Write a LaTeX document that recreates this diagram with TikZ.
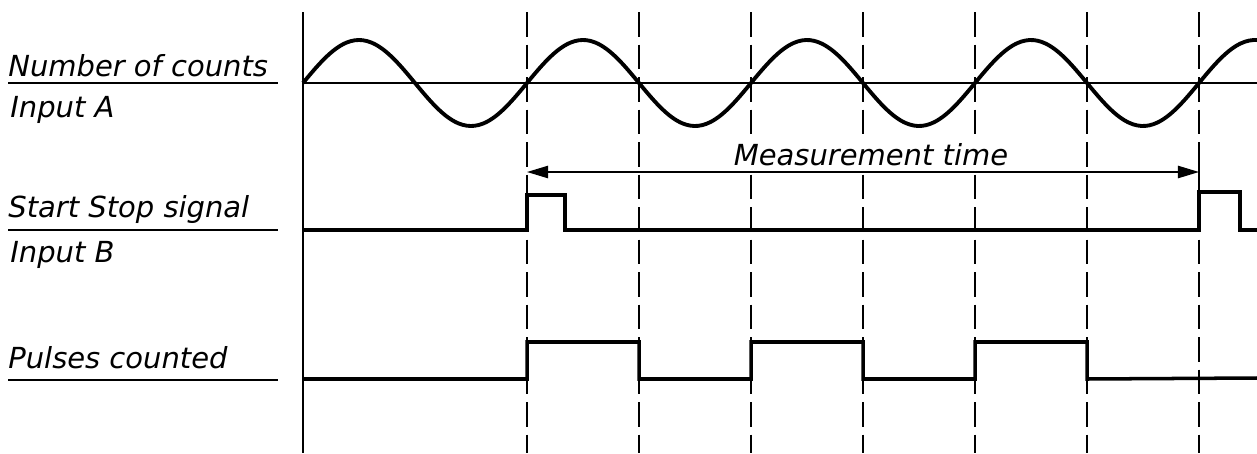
\documentclass[tikz,border=0pt]{standalone}
\usepackage{fontspec}
\newfontfamily\lab{DejaVu Sans}
\usetikzlibrary{arrows.meta}
\tikzset{
  lblfont/.style={font=\lab\itshape\fontsize{16.5}{18}\selectfont},
  lbl/.style={lblfont, inner sep=0pt, anchor=base west},
  uline/.style={line width=1.5pt},
  sig/.style={line width=2pt, line join=miter},
  axisline/.style={line width=1pt},
  grid/.style={line width=1.1pt, dash pattern=on 14pt off 4.5pt},
  meas/.style={line width=0.9pt, {Triangle[length=12pt,width=7pt]}-{Triangle[length=12pt,width=7pt]}},
}
\begin{document}
\begin{tikzpicture}[x=0.02cm, y=-0.02cm]
\useasboundingbox (0,0) rectangle (1257,453);
% labels
\node[lbl] (nc) at (8,76) {Number of counts};
\node[lbl] (ia) at (10,117) {Input A};
\node[lbl] (ss) at (8,217) {Start Stop signal};
\node[lbl] (ib) at (10,262) {Input B};
\node[lbl] (pc) at (8,368) {Pulses counted};
\coordinate (u1a) at (8,83); \coordinate (u1b) at (278,83);
\coordinate (u2a) at (8,230); \coordinate (u2b) at (278,230);
\coordinate (u3a) at (8,380); \coordinate (u3b) at (278,380);
\draw[uline] (u1a) -- (u1b);
\draw[uline] (u2a) -- (u2b);
\draw[uline] (u3a) -- (u3b);
% time axis
\coordinate (t0) at (303,12); \coordinate (t0b) at (303,453);
\draw[line width=1.2pt] (t0) -- (t0b);
% dashed grid lines
\foreach \i/\xx in {1/527,2/639,3/751,4/863,5/975,6/1087,7/1199}{
  \coordinate (g\i) at (\xx,12); \coordinate (g\i b) at (\xx,453);
  \draw[grid] (g\i) -- (g\i b);
}
% input A
\coordinate (a0) at (303,83); \coordinate (a1) at (1257,83);
\draw[axisline] (a0) -- (a1);
\draw[sig, line width=2.2pt] plot[domain=303:1257, samples=240, smooth] (\x, {83 - 43*sin((\x-303)/224*360)});
% measurement time
\node[lblfont, fill=white, inner xsep=1pt, inner ysep=3pt, anchor=base] (mt) at (871,165) {Measurement time};
\coordinate (m0) at (527,172); \coordinate (m1) at (1199,172);
\draw[meas] (m0) -- (m1);
\coordinate (k0) at (1199,158); \coordinate (k1) at (1199,176);
\draw[line width=1pt] (k0) -- (k1);
% input B
\coordinate (b0) at (303,230); \coordinate (b1) at (1257,230);
\draw[sig] (b0) -- (527,230) -- (527,195) -- (565,195) -- (565,230) -- (1199,230) -- (1199,192) -- (1240,192) -- (1240,230) -- (b1);
% pulses counted
\coordinate (p0) at (303,379); \coordinate (p1) at (1257,378);
\draw[sig] (p0) -- (527,379) -- (527,342) -- (639,342) -- (639,379)
  -- (751,379) -- (751,342) -- (863,342) -- (863,379)
  -- (975,379) -- (975,342) -- (1087,342) -- (1087,379) -- (p1);
\end{tikzpicture}
\end{document}
